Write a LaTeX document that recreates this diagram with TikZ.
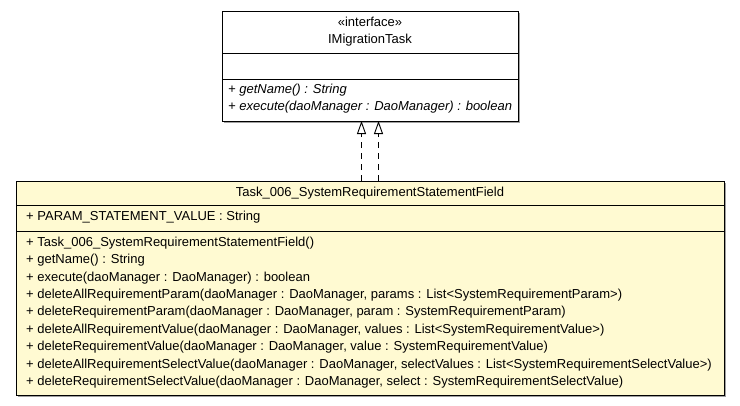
\documentclass[tikz,border=0pt]{standalone}
\usepackage{fontspec}
\setmainfont{Liberation Sans}
\usetikzlibrary{arrows.meta}
\definecolor{classfill}{RGB}{255,250,210}
\definecolor{shadowgray}{RGB}{160,160,160}
\begin{document}
\begin{tikzpicture}[x=1pt,y=-1pt,
	member/.style={anchor=west,inner sep=0pt,font=\fontsize{13}{15}\selectfont},
	title/.style={inner sep=0pt,font=\fontsize{13}{15}\selectfont},
	realize/.style={draw=black,line width=0.9pt,dash pattern=on 6pt off 5pt,-{Triangle[open,length=13pt,width=9pt]}}]
			\useasboundingbox (0,0) rectangle (740,405);
			% interface IMigrationTask
			\fill [shadowgray] (224,13) rectangle (520,123);
			\draw [black,fill=white,line width=0.9pt] (222,11) rectangle (518,121);
			\node (iface) at (370,121) {};
			\draw [black,line width=0.9pt] (222,53) -- (518,53);
			\draw [black,line width=0.9pt] (222,79) -- (518,79);
			\node [title] (stereo) at (370,22) {«interface»};
			\node [title] (ifname) at (370,40) {IMigrationTask};
			\node [member] (im1) at (228,90) {\itshape + getName() : String};
			\node [member] (im2) at (228,107) {\itshape + execute(daoManager : DaoManager) : boolean};
			% class Task_006_SystemRequirementStatementField
			\fill [shadowgray] (18,183) rectangle (726,397);
			\draw [black,fill=classfill,line width=0.9pt] (16,181) rectangle (724,395);
			\draw [black,line width=0.9pt] (16,205) -- (724,205);
			\draw [black,line width=0.9pt] (16,231) -- (724,231);
			\node [title] (clname) at (370,193) {Task\_006\_SystemRequirementStatementField};
			\node [member] (attr) at (26,217) {+ PARAM\_STATEMENT\_VALUE : String};
			\foreach \txt [count=\i from 0] in {
				+ Task\_006\_SystemRequirementStatementField(),
				+ getName() : String,
				+ execute(daoManager : DaoManager) : boolean,
				+ deleteAllRequirementParam(daoManager : DaoManager{,} params : List<SystemRequirementParam>),
				+ deleteRequirementParam(daoManager : DaoManager{,} param : SystemRequirementParam),
				+ deleteAllRequirementValue(daoManager : DaoManager{,} values : List<SystemRequirementValue>),
				+ deleteRequirementValue(daoManager : DaoManager{,} value : SystemRequirementValue),
				+ deleteAllRequirementSelectValue(daoManager : DaoManager{,} selectValues : List<SystemRequirementSelectValue>),
				+ deleteRequirementSelectValue(daoManager : DaoManager{,} select : SystemRequirementSelectValue)}
				\node [member] (cm\i) at (26,243+17.4*\i) {\txt};
			% realizations
			\coordinate (r1s) at (361.5,181);
			\coordinate (r1e) at (361.5,121);
			\coordinate (r2s) at (378.5,181);
			\coordinate (r2e) at (378.5,121);
			\draw [realize] (r1s) -- (r1e);
			\draw [realize] (r2s) -- (r2e);
		\end{tikzpicture}
\end{document}
